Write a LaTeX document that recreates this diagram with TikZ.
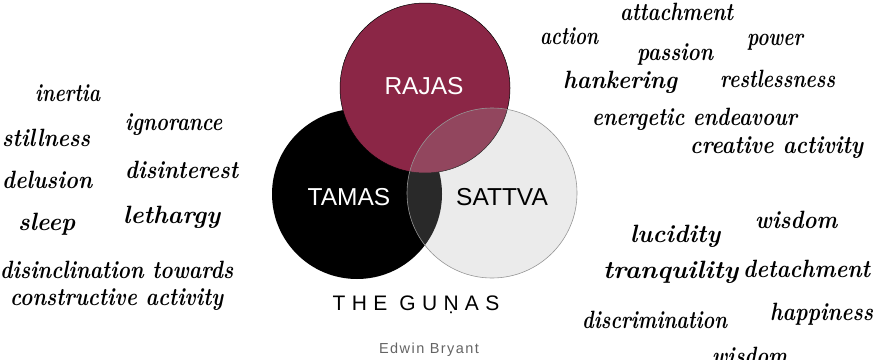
\documentclass[tikz,border=0pt]{standalone}
\usepackage{fontspec}
\usepackage{graphicx}
\setmainfont{Latin Modern Roman}
\newfontfamily\labelfont{Liberation Sans}
\newfontfamily\titlefont[LetterSpace=30]{Liberation Sans}
\newfontfamily\authorfont[LetterSpace=10]{Liberation Sans}
\definecolor{rajascol}{RGB}{139,38,70}
\definecolor{sattvacol}{RGB}{172,172,172}
\definecolor{sattvaedge}{RGB}{150,150,150}
\definecolor{authorcol}{RGB}{100,100,100}
\newcommand{\sw}[2]{\resizebox{#1pt}{\height}{#2}}
\tikzset{
  word/.style={inner sep=0pt, anchor=base west, font=\fontsize{25}{25}\selectfont\bfseries\itshape},
  gunalabel/.style={inner sep=0pt, font=\labelfont\fontsize{24.5}{24.5}\selectfont},
}
\begin{document}
\begin{tikzpicture}[x=1pt,y=-1pt]
\useasboundingbox (0,0) rectangle (877,359);
% circles
\fill[black] (357,194) circle (85);
\filldraw[fill=rajascol, draw=black, line width=0.5pt] (425,88) circle (85);
\filldraw[fill=sattvacol, fill opacity=0.24, draw=sattvaedge, line width=0.6pt] (492,193) circle (85);
% labels
\node[gunalabel, text=white] (rajas) at (424,86) {RAJAS};
\node[gunalabel, text=white] (tamas) at (349,197) {TAMAS};
\node[gunalabel, text=black] (sattva) at (502,197) {SATTVA};
\node[inner sep=0pt, font=\titlefont\fontsize{21}{21}\selectfont] (title) at (416,305) {THE GUṆAS};
\node[inner sep=0pt, text=authorcol, font=\authorfont\fontsize{14.5}{14.5}\selectfont] (author) at (429,350) {Edwin Bryant};
% tamas words
\node[word] (w1) at (35,101) {\sw{65}{inertia}};
\node[word] (w2) at (2,146) {\sw{88}{stillness}};
\node[word] (w3) at (125,130) {\sw{97}{ignorance}};
\node[word] (w4) at (2,188) {\sw{90}{delusion}};
\node[word] (w5) at (125,178) {\sw{113}{disinterest}};
\node[word] (w6) at (18,230) {\sw{57}{sleep}};
\node[word] (w7) at (123,223) {\sw{97}{lethargy}};
\node[word] (w8) at (0,278) {\sw{233}{disinclination towards}};
\node[word] (w9) at (10,305) {\sw{213}{constructive activity}};
% rajas words
\node[word] (r1) at (620,20) {\sw{113}{attachment}};
\node[word] (r2) at (540,44) {\sw{58}{action}};
\node[word] (r3) at (747,45) {\sw{56}{power}};
\node[word] (r4) at (637,60) {\sw{76}{passion}};
\node[word] (r5) at (563,88) {\sw{114}{hankering}};
\node[word] (r6) at (720,87) {\sw{115}{restlessness}};
\node[word] (r7) at (592,125) {\sw{205}{energetic endeavour}};
\node[word] (r8) at (690,153) {\sw{173}{creative activity}};
% sattva words
\node[word] (s1) at (630,242) {\sw{90}{lucidity}};
\node[word] (s2) at (755,228) {\sw{82}{wisdom}};
\node[word] (s3) at (603,278) {\sw{135}{tranquility}};
\node[word] (s4) at (743,277) {\sw{127}{detachment}};
\node[word] (s5) at (582,328) {\sw{145}{discrimination}};
\node[word] (s6) at (770,320) {\sw{103}{happiness}};
\node[word] (s7) at (712,364) {\sw{75}{wisdom}};
\end{tikzpicture}
\end{document}
